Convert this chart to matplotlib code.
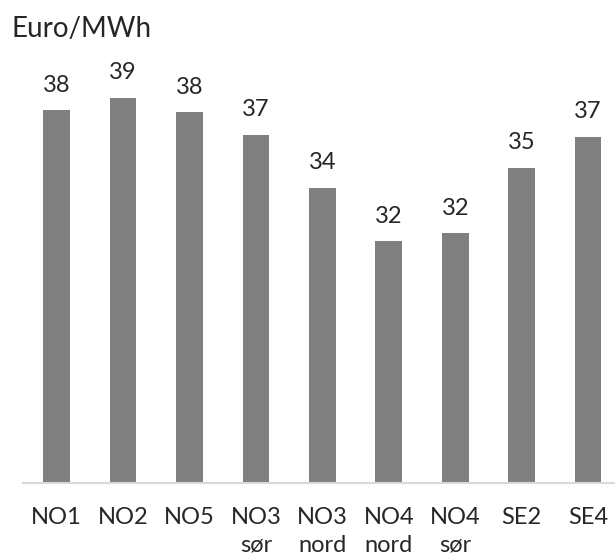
import matplotlib
matplotlib.use("Agg")
import matplotlib.pyplot as plt

plt.rcParams['font.family'] = ['Lato', 'DejaVu Sans']

areas = ["NO1", "NO2", "NO5", "NO3\nsør", "NO3\nnord", "NO4\nnord", "NO4\nsør", "SE2", "SE4"]
prices = [38.2, 38.8, 38.1, 37.0, 34.4, 31.8, 32.2, 35.4, 36.9]

txt = '#262626'

fig = plt.figure(figsize=(6.15, 5.58), dpi=100)
ax = fig.add_axes([0.0379, 0.1339, 0.9724, 0.7586])

x = range(len(areas))
bars = ax.bar(x, prices, width=0.4, color='#808080', zorder=2)

for b, v in zip(bars, prices):
    ax.annotate(f"{v:.0f}", (b.get_x() + b.get_width() / 2, v),
                xytext=(0, 13.4), textcoords='offset points',
                ha='center', va='baseline', fontsize=17, color=txt)

ax.set_xlim(-0.5, len(areas) - 0.5)
ax.set_ylim(20, 40.65)
ax.set_xticks(list(x))
ax.set_xticklabels(areas, fontsize=17, color=txt, linespacing=1.4)
ax.tick_params(axis='x', length=0, pad=17)
ax.set_yticks([])

for side in ['top', 'right', 'left']:
    ax.spines[side].set_visible(False)
ax.spines['bottom'].set_color('#d9d9d9')
ax.spines['bottom'].set_linewidth(1.5)

fig.text(12 / 615, 1 - 37.3 / 558, "Euro/MWh", fontsize=20, color=txt,
         ha='left', va='baseline')

fig.savefig("out.png", dpi=100)
